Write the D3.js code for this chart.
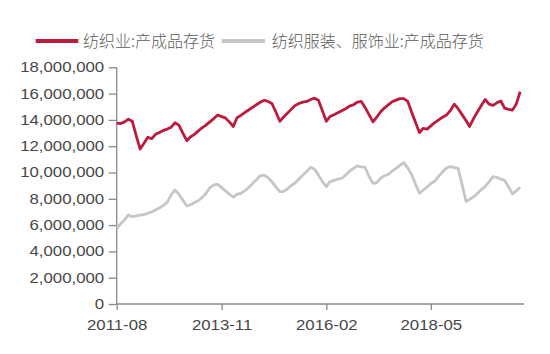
<!DOCTYPE html>
<html>
<head>
<meta charset="utf-8">
<script src="https://cdn.jsdelivr.net/npm/d3@7"></script>
<style>
  body { margin: 0; background: #fff; }
  svg { display: block; }
</style>
</head>
<body>
<div id="chart"></div>
<script>
// monthly series, 2011-08 .. 2020-04, in units of 1e6
const seriesNames = ["纺织业:产成品存货", "纺织服装、服饰业:产成品存货"];
const textile = [
  13.75, 13.72, 13.85, 14.05, 13.9, 12.8, 11.78, 12.2, 12.68, 12.57, 12.9, 13.05,
  13.2, 13.3, 13.45, 13.78, 13.6, 13.0, 12.42, 12.7, 12.9, 13.15, 13.4, 13.6,
  13.85, 14.1, 14.37, 14.25, 14.15, 13.85, 13.5, 14.15, 14.35, 14.55, 14.75, 14.95,
  15.15, 15.35, 15.5, 15.4, 15.25, 14.6, 13.9, 14.2, 14.5, 14.8, 15.1, 15.25,
  15.35, 15.4, 15.55, 15.65, 15.5, 14.7, 13.9, 14.25, 14.4, 14.55, 14.7, 14.85,
  15.05, 15.15, 15.35, 15.4, 14.95, 14.4, 13.85, 14.2, 14.6, 14.9, 15.15, 15.38,
  15.5, 15.62, 15.62, 15.4, 14.6, 13.8, 13.03, 13.36, 13.3, 13.55, 13.8, 14.0,
  14.2, 14.37, 14.7, 15.2, 14.85, 14.4, 13.95, 13.5, 14.1, 14.6, 15.1, 15.55,
  15.2, 15.1, 15.3, 15.44, 14.9, 14.8, 14.75, 15.2, 16.15
];
const apparel = [
  5.76, 6.1, 6.39, 6.77, 6.64, 6.7, 6.75, 6.8, 6.9, 7.0, 7.15, 7.3,
  7.5, 7.75, 8.3, 8.67, 8.35, 7.9, 7.45, 7.55, 7.7, 7.85, 8.1, 8.4,
  8.85, 9.05, 9.1, 8.85, 8.6, 8.35, 8.12, 8.35, 8.42, 8.6, 8.85, 9.15,
  9.45, 9.75, 9.8, 9.6, 9.3, 8.9, 8.54, 8.54, 8.75, 9.0, 9.2, 9.5,
  9.8, 10.1, 10.4, 10.25, 9.8, 9.3, 8.92, 9.3, 9.4, 9.5, 9.56, 9.8,
  10.1, 10.32, 10.5, 10.42, 10.4, 9.7, 9.18, 9.22, 9.55, 9.75, 9.85, 10.1,
  10.32, 10.55, 10.75, 10.35, 9.85, 9.1, 8.42, 8.65, 8.9, 9.15, 9.35, 9.7,
  10.05, 10.35, 10.44, 10.38, 10.32, 9.1, 7.8, 7.95, 8.15, 8.4, 8.7, 8.92,
  9.3, 9.68, 9.62, 9.5, 9.4, 8.9, 8.37, 8.6, 8.87
];
const yTicks = [0, 2e6, 4e6, 6e6, 8e6, 10e6, 12e6, 14e6, 16e6, 18e6];
const xTickLabels = ["2011-08", "2013-11", "2016-02", "2018-05"];

const width = 550, height = 354;
const parse = d3.timeParse("%Y-%m");
const start = parse("2011-08");
const months = d3.timeMonth.range(start, d3.timeMonth.offset(start, textile.length));

const x = d3.scaleTime()
  .domain([start, d3.timeMonth.offset(start, 105)])
  .range([116.7, 524]);
const y = d3.scaleLinear()
  .domain([0, 18e6])
  .range([304, 67.3]);

const svg = d3.select("#chart").append("svg")
  .attr("width", width)
  .attr("height", height);

const axisColor = "#8a8a8a";
const tickText = "#474747";
const stretch = 1.2;

// y axis
const yAxis = svg.append("g")
  .attr("transform", `translate(${x.range()[0]},0)`)
  .call(d3.axisLeft(y).tickValues(yTicks).tickSize(8).tickFormat(d3.format(",")));
yAxis.select(".domain").attr("stroke", axisColor).attr("stroke-width", 1.3)
  .attr("d", `M0,${y(18e6)}V${y(0)}`);
yAxis.selectAll(".tick line").attr("stroke", axisColor).attr("stroke-width", 1.3);
yAxis.selectAll(".tick text")
  .attr("fill", tickText)
  .style("font", "14px 'Liberation Sans', Arial, sans-serif")
  .attr("x", -12.5 / stretch)
  .attr("transform", `scale(${stretch},1)`);

// x axis
const xAxis = svg.append("g")
  .attr("transform", `translate(0,${y(0)})`)
  .call(d3.axisBottom(x)
    .tickValues(xTickLabels.map(parse))
    .tickSize(6)
    .tickFormat(d3.timeFormat("%Y-%m")));
xAxis.select(".domain").attr("stroke", axisColor).attr("stroke-width", 1.3)
  .attr("d", `M${x.range()[0]},0H${x.range()[1]}`);
xAxis.selectAll(".tick line").attr("stroke", axisColor).attr("stroke-width", 1.3);
xAxis.selectAll(".tick text")
  .attr("fill", tickText)
  .attr("y", 16)
  .style("font", "14px 'Liberation Sans', Arial, sans-serif")
  .attr("transform", `scale(${stretch},1)`);

// lines
const colors = ["#BE1A3D", "#C6C6C6"];
const line = d3.line()
  .x((d, i) => x(months[i]))
  .y(d => y(d * 1e6));

[apparel, textile].forEach((s, k) => {
  svg.append("path")
    .datum(s)
    .attr("fill", "none")
    .attr("stroke", k === 0 ? colors[1] : colors[0])
    .attr("stroke-width", 2.8)
    .attr("stroke-linejoin", "round")
    .attr("d", line);
});

// legend
const legend = svg.append("g")
  .style("font-family", "'Noto Sans CJK SC', sans-serif")
  .style("font-size", "16px")
  .style("font-weight", 300)
  .attr("fill", "#5a5a5a");
const legendItems = [
  { name: seriesNames[0], color: colors[0], x0: 35.7, x1: 78.3, tx: 83 },
  { name: seriesNames[1], color: colors[1], x0: 221.7, x1: 265, tx: 271.7 }
];
legendItems.forEach(d => {
  legend.append("line")
    .attr("x1", d.x0).attr("x2", d.x1)
    .attr("y1", 41).attr("y2", 41)
    .attr("stroke", d.color)
    .attr("stroke-width", 4);
  legend.append("text")
    .attr("x", d.tx).attr("y", 47)
    .text(d.name);
});
</script>
</body>
</html>
